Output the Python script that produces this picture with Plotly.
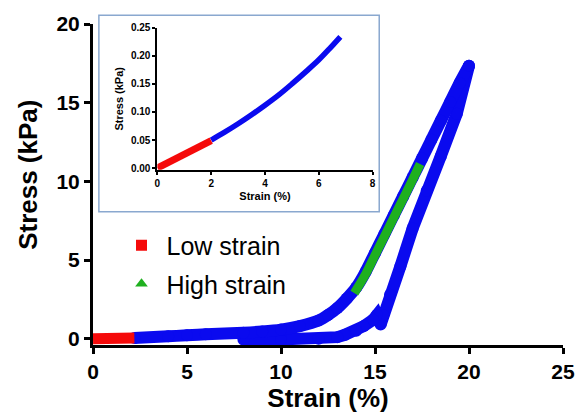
import plotly.graph_objects as go

# ---- main chart data (strain %, stress kPa) ----
load_strain = [2.2, 4, 5, 6, 8, 9, 10, 11, 12, 12.5, 13, 13.5, 14, 14.5, 15, 15.5, 16, 16.5, 17, 17.5, 18, 18.5, 19, 19.5, 20]
load_stress = [0.05, 0.15, 0.22, 0.28, 0.38, 0.46, 0.58, 0.8, 1.15, 1.5, 1.95, 2.55, 3.25, 4.25, 5.45, 6.65, 7.85, 9.05, 10.25, 11.45, 12.65, 13.85, 15.05, 16.25, 17.35]
unload_strain = [20, 19.35, 18.5, 17.75, 17.0, 16.35, 15.8, 15.45, 15.3, 15.1, 14.9, 14.4, 14.0, 13.4, 13.0, 12.0, 10.0, 8.0]
unload_stress = [17.35, 14.3, 11.6, 9.4, 7.0, 4.6, 2.8, 1.5, 0.9, 1.5, 1.2, 0.8, 0.5, 0.25, 0.1, 0.0, -0.05, -0.05]
low_strain = [0, 1, 2.2]
low_stress = [0.0, 0.02, 0.05]
high_strain = [13.9, 14.5, 15.0, 15.5, 16.0, 16.5, 17.0, 17.4]
high_stress = [2.9, 4.1, 5.3, 6.5, 7.7, 8.9, 10.1, 11.1]

# ---- inset data ----
in_strain = [2, 2.5, 3, 3.5, 4, 4.5, 5, 5.5, 6, 6.4, 6.8]
in_stress = [0.05, 0.064, 0.079, 0.095, 0.112, 0.13, 0.15, 0.171, 0.193, 0.213, 0.234]
in_low_strain = [0, 1, 2]
in_low_stress = [0.0, 0.024, 0.049]

x_ticks = [0, 5, 10, 15, 20, 25]
y_ticks = [0, 5, 10, 15, 20]
in_x_ticks = [0, 2, 4, 6, 8]
in_y_ticks = [0, 0.05, 0.10, 0.15, 0.20, 0.25]

BLUE = "#0a0aef"
RED = "#f50a0a"
GREEN = "#1fb01f"
FONT = "Liberation Sans, Arial, sans-serif"

fig = go.Figure()

# main traces
fig.add_trace(go.Scatter(x=unload_strain, y=unload_stress, mode="lines+markers",
                         line=dict(color=BLUE, width=12), marker=dict(color=BLUE, size=12),
                         showlegend=False, hoverinfo="skip"))
fig.add_trace(go.Scatter(x=load_strain, y=load_stress, mode="lines+markers",
                         line=dict(color=BLUE, width=12, shape="spline", smoothing=0.8),
                         marker=dict(color=BLUE, size=12),
                         showlegend=False, hoverinfo="skip"))
fig.add_trace(go.Scatter(x=low_strain, y=low_stress, mode="lines",
                         line=dict(color=RED, width=11), showlegend=False, hoverinfo="skip"))
fig.add_trace(go.Scatter(x=high_strain, y=high_stress, mode="lines",
                         line=dict(color=GREEN, width=9, shape="spline"), showlegend=False, hoverinfo="skip"))

# legend entries
fig.add_trace(go.Scatter(x=[None], y=[None], mode="markers", name="Low strain",
                         marker=dict(symbol="square", color=RED, size=11), legend="legend"))
fig.add_trace(go.Scatter(x=[None], y=[None], mode="markers", name="High strain",
                         marker=dict(symbol="triangle-up", color=GREEN, size=11), legend="legend2"))

# inset traces
fig.add_trace(go.Scatter(x=in_strain, y=in_stress, mode="lines", xaxis="x2", yaxis="y2",
                         line=dict(color=BLUE, width=5.5, shape="spline"),
                         showlegend=False, hoverinfo="skip"))
fig.add_trace(go.Scatter(x=in_low_strain, y=in_low_stress, mode="lines", xaxis="x2", yaxis="y2",
                         line=dict(color=RED, width=7), showlegend=False, hoverinfo="skip"))

axis_common = dict(showgrid=False, zeroline=False, showline=True, linecolor="black",
                   ticks="outside", tickcolor="black")

fig.update_layout(
    width=587, height=419,
    margin=dict(l=93, r=13, t=19, b=72),
    paper_bgcolor="white", plot_bgcolor="white",
    font=dict(family=FONT, color="black"),
    xaxis=dict(range=[0, 25], tickvals=x_ticks, linewidth=3, tickwidth=3, ticklen=6,
               tickfont=dict(size=21, family=FONT, weight="bold"),
               title=dict(text="<b>Strain (%)</b>", font=dict(size=26), standoff=6),
               **axis_common),
    yaxis=dict(range=[-0.4, 20], tickvals=y_ticks, linewidth=3, tickwidth=3, ticklen=6,
               tickfont=dict(size=21, family=FONT, weight="bold"),
               **axis_common),
    xaxis2=dict(domain=[0.137, 0.595], anchor="y2", range=[0, 8], tickvals=in_x_ticks,
                linewidth=2, tickwidth=1.5, ticklen=3,
                tickfont=dict(size=10, family=FONT, weight="bold"),
                title=dict(text="<b>Strain (%)</b>", font=dict(size=11), standoff=5),
                **axis_common),
    yaxis2=dict(domain=[0.546, 0.988], anchor="x2", range=[-0.003, 0.25], tickvals=in_y_ticks,
                tickformat=".2f", linewidth=2, tickwidth=1.5, ticklen=3,
                tickfont=dict(size=10, family=FONT, weight="bold"),
                title=dict(text="<b>Stress (kPa)</b>", font=dict(size=11), standoff=5),
                **axis_common),
    legend=dict(x=0.05, y=0.31, xanchor="left", yanchor="middle", bgcolor="rgba(0,0,0,0)",
                itemwidth=40, font=dict(size=25, family=FONT)),
    legend2=dict(x=0.05, y=0.19, xanchor="left", yanchor="middle", bgcolor="rgba(0,0,0,0)",
                 itemwidth=40, font=dict(size=25, family=FONT)),
    annotations=[dict(text="<b>Stress (kPa)</b>", textangle=-90, xref="paper", yref="paper",
                      x=0, y=0.53, xanchor="center", yanchor="middle", xshift=-65, showarrow=False,
                      font=dict(size=26, family=FONT, color="black"))],
    shapes=[dict(type="rect", xref="paper", yref="paper", x0=0.0125, x1=0.609, y0=0.415, y1=1.027,
                 line=dict(color="#8aa8cf", width=1.5), fillcolor="white", layer="below")],
)

fig.write_html("out.html")
